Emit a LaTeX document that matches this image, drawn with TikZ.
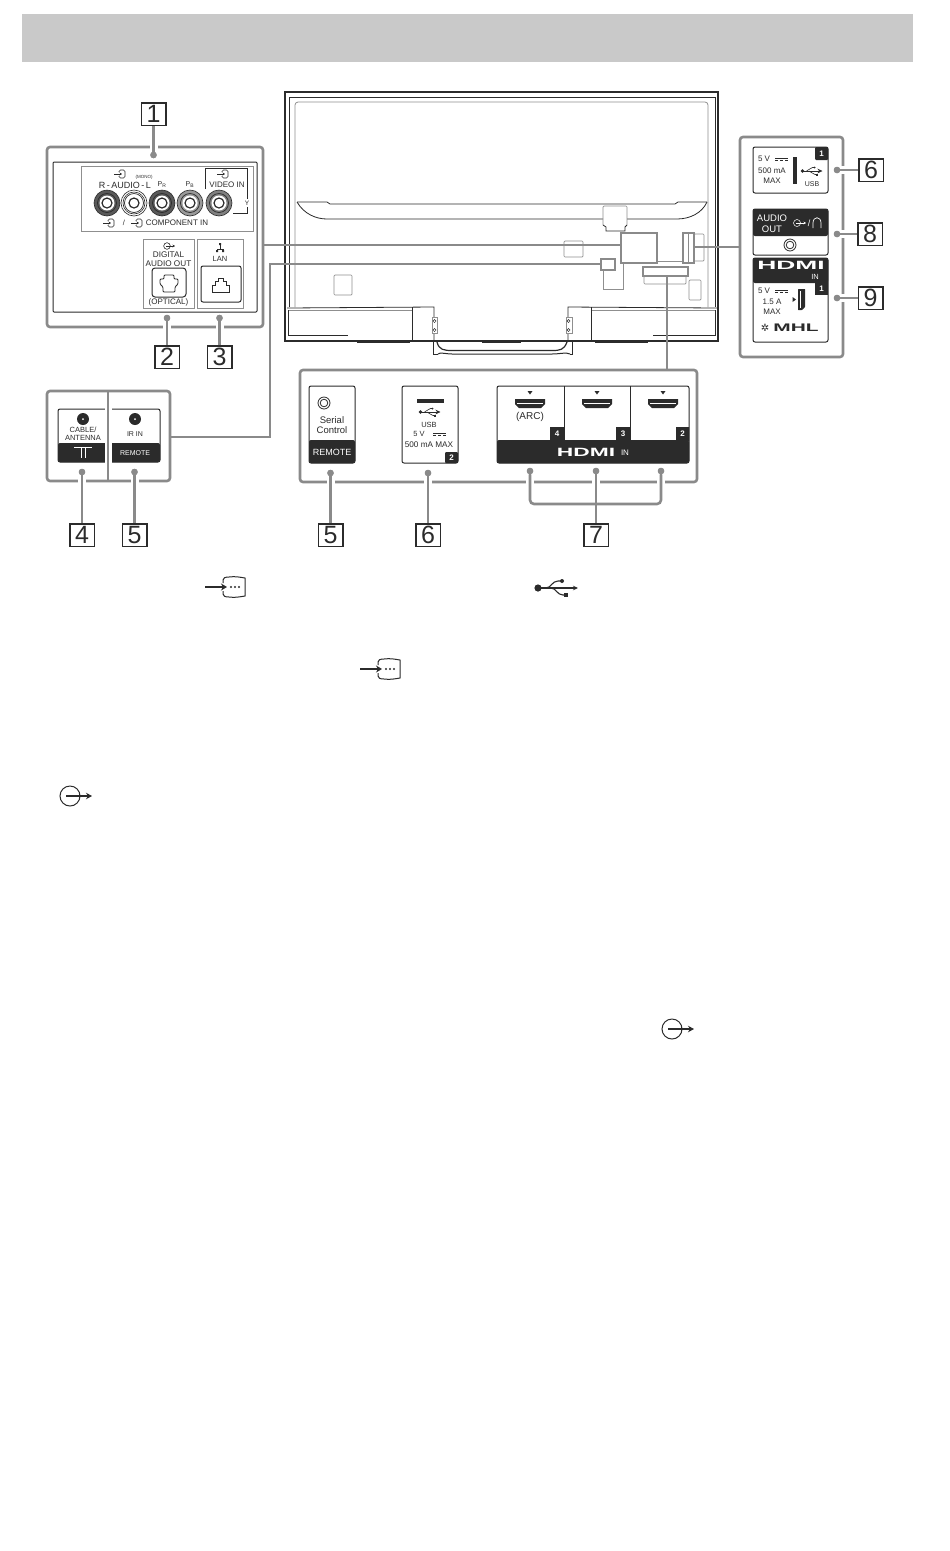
\documentclass[tikz,border=0pt]{standalone}
\usepackage{graphicx}
\usepackage{fontspec}
\setmainfont{Liberation Sans}
\usetikzlibrary{arrows.meta}
\definecolor{ink}{HTML}{2B2B2B}
\definecolor{grayln}{HTML}{8A8A8A}
\definecolor{barc}{HTML}{C9C9C9}
\definecolor{thinc}{HTML}{8F8F8F}
\tikzset{
  x=1pt,y=-1pt,
  tx/.style={inner sep=0pt,text=ink,align=center,font=\fontsize{#1}{#1}\selectfont},
  tx/.default=7.5,
  wt/.style={inner sep=0pt,text=white,align=center,font=\fontsize{#1}{#1}\selectfont},
  numbox/.style={draw=ink,line width=.8pt,fill=white,inner sep=0pt,minimum width=24pt,minimum height=22pt,font=\fontsize{25}{25}\selectfont,text=ink},
  dotn/.style={circle,fill=grayln,inner sep=0pt,minimum size=6.5pt},
  frame/.style={draw=grayln,line width=2.6pt,rounded corners=3pt,inner sep=0pt},
  card/.style={draw=ink,line width=1pt,rounded corners=2pt,fill=white,inner sep=0pt},
  panel/.style={draw=thinc,line width=.6pt,inner sep=0pt},
  conn/.style={draw=grayln,line width=2.6pt},
  haloc/.style={conn,preaction={draw=white,line width=8pt}},
  tvln/.style={draw=ink,line width=.8pt},
  tvgr/.style={draw=thinc,line width=.7pt,rounded corners=1pt},
  hilite/.style={draw=grayln,line width=2.8pt},
  usbicon/.pic={
    \fill[ink] (5,0) circle (3.6);
    \draw[ink,-{Stealth[length=5pt,width=4.5pt]}] (5,0) -- (45,0);
    \draw[ink] (13,0) .. controls (18,0) and (19,-7) .. (25,-7) -- (29,-7);
    \fill[ink] (29,-7) circle (2);
    \draw[ink] (18,0) .. controls (23,0) and (24,7) .. (30,7) -- (33,7);
    \fill[ink] (31,5) rectangle (35,9);
  },
  inicon/.pic={
    \draw[ink,line width=1.5pt,-{Stealth[length=6pt,width=7pt]}] (0,0) -- (22,0);
    \draw[ink,line width=1pt] (18,-4) -- (18,-7) .. controls (18,-9) and (20,-10) .. (24,-10) .. controls (30,-10.8) and (34,-10) .. (40,-9) -- (40,9) .. controls (34,10) and (30,10.8) .. (24,10) .. controls (20,10) and (18,9) .. (18,7) -- (18,4);
    \foreach \q in {26,30,34}{\fill[ink] (\q,0) circle (1.1);}
  },
  outicon/.pic={
    \draw[ink,line width=1pt] (0,0) circle (10);
    \draw[ink,line width=1.1pt,-{Stealth[length=6pt,width=6.5pt]}] (-4,0) -- (22,0);
  },
  sminicon/.pic={
    \draw[ink,line width=.6pt,-{Stealth[length=2.5pt,width=3pt]}] (-7,0) -- (1,0);
    \draw[ink,line width=.6pt,rounded corners=1.5pt] (-2,-2) -- (-2,-4) -- (4,-4) -- (4,4) -- (-2,4) -- (-2,2);
  },
  smouticon/.pic={
    \draw[ink,line width=.6pt] (0,0) circle (3.3);
    \draw[ink,line width=.6pt,-{Stealth[length=2.5pt,width=2.8pt]}] (-1,0) -- (8,0);
  },
  dcsym/.pic={
    \draw[ink,line width=.6pt] (0,-1) -- (13,-1);
    \draw[ink,line width=.6pt,dash pattern=on 3pt off 2pt] (0,1) -- (13,1);
  },
  rca/.pic={
    \fill[#1] (0,0) circle (13);
    \draw[ink,line width=.6pt] (0,0) circle (13);
    \draw[ink,line width=.7pt] (0,0) circle (9.5);
    \fill[white] (0,0) circle (7.5);
    \draw[ink,line width=1.2pt] (0,0) circle (5);
  },
  hport/.pic={
    \fill[ink] (-2.5,-10) -- (2.5,-10) -- (0,-6.5) -- cycle;
    \fill[ink] (-15,-2) -- (15,-2) -- (15,3) -- (11,7) -- (-11,7) -- (-15,3) -- cycle;
    \fill[white] (-13,1.5) rectangle (13,3);
  },
  jack/.pic={
    \draw[ink,line width=.8pt] (0,0) circle (6);
    \draw[ink,line width=.8pt] (0,0) circle (3.8);
  },
  fjack/.pic={
    \fill[ink] (0,0) circle (6);
    \fill[white] (0,0) circle (1);
  }
}
\begin{document}
\begin{tikzpicture}
\useasboundingbox (0,0) rectangle (950,1551);
\fill[white] (0,0) rectangle (950,1551);
\fill[barc] (22,14) rectangle (913,62);

% ---------- TV rear view
\draw[draw=ink,line width=1.3pt] (285,92) rectangle (718,341);
\draw[tvln] (289,97) -- (715,97);
\draw[tvln] (289,97) -- (289,307);
\draw[tvln] (715,97) -- (715,307);
\draw[draw=thinc,line width=.8pt,rounded corners=3pt] (295,307) -- (295,102) -- (708,102) -- (708,307);
\draw[tvln] (297,202) -- (327,202) -- (330,204) -- (675,204) -- (678,202) -- (707,202);
\draw[tvln] (297,202) .. controls (304,214) and (316,219) .. (327,219) -- (603,219);
\draw[tvln] (627,219) -- (677,219) .. controls (690,219) and (702,213) .. (707,202);
\draw[tvgr] (603,225) -- (603,206) -- (627,206) -- (627,225);
\draw[tvln] (603,225) -- (606,227) -- (606,231) -- (625,231) -- (625,227) -- (627,225);
\draw[tvgr] (564,241) rectangle (583,257);
\draw[tvgr] (334,275) rectangle (352,295);
\draw[tvgr] (694,234) rectangle (704,261);
\draw[tvgr] (644,276) rectangle (686,284);
\draw[draw=thinc,line width=.7pt] (657,261) -- (683,261);
\draw[draw=thinc,line width=.7pt] (615,270) -- (603,270) -- (603,289) -- (623,289) -- (623,263);
\draw[tvgr] (689,280) rectangle (701,300);
% base
\draw[tvln] (287,308) -- (434,307) -- (434,341);
\draw[tvln] (717,308) -- (568,307) -- (568,341);
\draw[draw=thinc,line width=.6pt] (288,310) -- (412,310);
\draw[draw=thinc,line width=.6pt] (591,310) -- (715,310);
\draw[tvln] (412,307) -- (412,341);
\draw[tvln] (591,307) -- (591,341);
\draw[tvln] (288,310) -- (288,335) -- (348,335);
\draw[tvln] (715,310) -- (715,335) -- (653,335);
\draw[draw=ink,line width=1.5pt] (357,342) -- (410,342);
\draw[draw=ink,line width=1.5pt] (595,342) -- (648,342);
\draw[draw=ink,line width=.9pt] (482,342.5) -- (521,342.5);
\draw[draw=ink,line width=1pt] (433,341) -- (433,354) -- (438,354) (570,354) -- (572,354) -- (572,341);
\draw[draw=ink,line width=1.2pt] (437,342) .. controls (439,350) and (444,350.5) .. (452,350.5) -- (552,350.5) .. controls (560,350.5) and (564,350) .. (567,342);
\draw[draw=ink,line width=1pt] (438,354) .. controls (440,352) and (446,354) .. (452,354) -- (552,354) .. controls (560,354) and (566,352) .. (570,354);
\draw[draw=thinc,line width=.7pt,fill=white] (432,317) rectangle (437,333);
\draw[draw=thinc,line width=.7pt,fill=white] (566,317) rectangle (572,333);
\foreach \q/\r in {434.5/321,434.5/330,568.5/321,568.5/330}{\draw[draw=ink,line width=.5pt] (\q,\r) circle (1.6);}

% ---------- highlight boxes on the TV
\node[hilite,inner sep=0pt,minimum width=36pt,minimum height=30pt] (hA) at (639,248) {};
\node[hilite,inner sep=0pt,minimum width=14pt,minimum height=11pt] (hB) at (608,264.5) {};
\node[hilite,inner sep=0pt,minimum width=11pt,minimum height=30pt] (hC) at (688.5,248) {};
\node[hilite,inner sep=0pt,minimum width=45pt,minimum height=9pt] (hD) at (665.5,271.5) {};
\draw[draw=grayln,line width=1pt] (688.5,233) -- (688.5,263);

% ---------- frames
\node[frame,minimum width=216pt,minimum height=180pt] (frA) at (155,237) {};
\node[frame,minimum width=123pt,minimum height=90pt] (frB) at (108.5,436) {};
\node[frame,minimum width=397pt,minimum height=112pt] (frC) at (498.5,426) {};
\node[frame,minimum width=103pt,minimum height=220pt] (frD) at (791.5,247) {};

% ---------- connectors
\coordinate (aE) at (263,245);
\coordinate (bA) at (270,264);
\coordinate (bB) at (270,437);
\coordinate (bC) at (170,437);
\coordinate (dT) at (667,370);
\coordinate (eL) at (740,247);
\draw[conn] (aE) -- (hA.west |- aE);
\draw[conn] (hB.west |- bA) -- (bA) -- (bB) -- (bC);
\draw[conn] (hD.south -| dT) -- (dT);
\draw[conn] (eL) -- (hC.east |- eL);

% ---------- panel 1
\node[card,rounded corners=1pt,minimum width=204pt,minimum height=150pt] (inA) at (155,237) {};
\node[panel,minimum width=172pt,minimum height=65pt] (pComp) at (167,198.5) {};
\node[panel,minimum width=51pt,minimum height=69pt] (pDig) at (168.5,273.5) {};
\node[panel,minimum width=46pt,minimum height=69pt] (pLan) at (220,273.5) {};

\pic at (121,174) {sminicon};
\node[tx=4.5] (tMono) at (144,177) {(MONO)};
\node[tx=9] (tAud) at (125,185) {R\,-\,AUDIO\,-\,L};
\node[tx=7] (tPr) at (162,185) {P\textsubscript{R}};
\node[tx=7] (tPb) at (190,185) {P\textsubscript{B}};
\pic at (224,174) {sminicon};
\node[tx=8] (tVid) at (227,185) {VIDEO IN};
\draw[draw=ink,line width=.6pt] (205,189) -- (205,168.5) -- (247,168.5) -- (247,199);
\draw[draw=ink,line width=.6pt] (247,207) -- (247,213) -- (233,213);
\node[tx=6.5,fill=white] (tY) at (247,203) {Y};
\pic at (107,203) {rca=black!65};
\pic at (134,203) {rca=white};
\draw[ink,line width=.6pt] (134,203) circle (11);
\pic at (162,203) {rca=black!65};
\pic at (190,203) {rca=black!40};
\pic at (219,203) {rca=black!50};
\pic at (110,223) {sminicon};
\node[tx=7.5] (tSl) at (124,223) {/};
\pic at (138,223) {sminicon};
\node[tx=8] (tCom) at (177,223) {COMPONENT IN};

\pic at (167,246) {smouticon};
\node[tx=8.2] (tDg) at (168.5,259) {DIGITAL\\[.6pt]AUDIO OUT};
\node[card,rounded corners=3pt,minimum width=34pt,minimum height=29pt] (opt) at (169,282.5) {};
\draw[draw=ink,line width=.8pt,rounded corners=1pt] (164,275) -- (174,275) -- (174,279) -- (178,279) -- (178,284) -- (175,287) -- (175,292) -- (163,292) -- (163,287) -- (160,284) -- (160,279) -- (164,279) -- cycle;
\node[tx=8] (tOpt) at (168.5,302) {(OPTICAL)};

\draw[draw=ink,line width=.5pt] (220,244) -- (220,249) (217,249) -- (223,249) (217,249)--(217,250.5) (223,249)--(223,250.5);
\fill[ink] (219,243) rectangle (221,245) (216,250) rectangle (218,252) (222,250) rectangle (224,252);
\node[tx=7.5] (tLan) at (220,259) {LAN};
\node[card,rounded corners=2pt,minimum width=40pt,minimum height=36pt] (rj) at (221,284) {};
\draw[draw=ink,line width=.7pt] (212,292) -- (212,285) -- (215,285) -- (215,281) -- (218,281) -- (218,278) -- (223,278) -- (223,281) -- (226,281) -- (226,285) -- (229,285) -- (229,292) -- cycle;

% ---------- panels 4/5
\node[card,minimum width=102pt,minimum height=53pt] (cdE) at (109,435.5) {};
\fill[ink,rounded corners=2pt] (58,443) rectangle (160,462);
\pic at (83,419) {fjack};
\pic at (135,419) {fjack};
\node[tx=7.5] (tCab) at (83,433.5) {CABLE/\\[.4pt]ANTENNA};
\draw[draw=white,line width=.7pt] (74,447) -- (92,447) (81,447) -- (81,458) (85,447) -- (85,458);
\node[tx=7] (tIr) at (135,434) {IR IN};
\node[wt=7] (tRm) at (135,453) {REMOTE};
\draw[draw=white,line width=7pt] (108,403) -- (108,470);
\draw[conn] (108,391) -- (108,481);

% ---------- panel serial
\node[card,minimum width=46pt,minimum height=77pt] (cdF) at (332,424.5) {};
\fill[ink,rounded corners=2pt] (309,440) rectangle (355,463);
\pic at (324,403) {jack};
\node[tx=9.5] (tSer) at (332,425) {Serial\\[.6pt]Control};
\node[wt=9] (tRm2) at (332,452) {REMOTE};

% ---------- panel USB
\node[card,minimum width=56pt,minimum height=77pt] (cdG) at (430,424.5) {};
\fill[ink] (417,399) rectangle (444,403);
\pic[scale=.5,line width=.6pt] at (418,412) {usbicon};
\node[tx=7.5] (tUs) at (429,425) {USB};
\node[tx=7.5] (t5a) at (419,434) {5 V};
\pic at (433,434) {dcsym};
\node[tx=8.2] (t5b) at (429,445) {500 mA MAX};
\fill[ink,rounded corners=1pt] (445,452) rectangle (458,463);
\node[wt=8] (t2a) at (451.5,457.5) {\bfseries 2};

% ---------- panel HDMI
\node[card,minimum width=192pt,minimum height=77pt] (cdH) at (593,424.5) {};
\fill[ink,rounded corners=2pt] (497,440) rectangle (689,463);
\draw[draw=ink,line width=1pt] (564,386) -- (564,440) (630,386) -- (630,440);
\fill[ink] (550,427) rectangle (564,441) (616,427) rectangle (630,441) (676,427) rectangle (689,441);
\node[wt=8] (t4) at (557,434) {\bfseries 4};
\node[wt=8] (t3) at (623,434) {\bfseries 3};
\node[wt=8] (t2b) at (682.5,434) {\bfseries 2};
\pic at (530,401) {hport};
\pic at (597,401) {hport};
\pic at (663,401) {hport};
\node[tx=10] (tArc) at (530,417) {(ARC)};
\node[wt=12] (tHd) at (586,452) {\scalebox{1.9}[1]{\bfseries HDMI}};
\node[wt=8] (tIn) at (625,453) {IN};

% ---------- right panels
\node[card,minimum width=75pt,minimum height=46pt] (cdI) at (790.5,170) {};
\fill[ink,rounded corners=1pt] (815,147) rectangle (828,160);
\node[wt=8] (t1a) at (821.5,153.5) {\bfseries 1};
\node[tx=8] (t5c) at (764,159) {5 V};
\pic at (775,159) {dcsym};
\node[tx=8] (t5d) at (772,171) {500 mA};
\node[tx=8] (t5e) at (772,181) {MAX};
\fill[ink] (793,157) rectangle (797,184);
\pic[scale=.5,line width=.6pt] at (800,171) {usbicon};
\node[tx=7] (tUb) at (812,184) {USB};

\node[card,minimum width=75pt,minimum height=46pt] (cdJ) at (790.5,232) {};
\fill[ink,rounded corners=2pt] (753,209) rectangle (828,236);
\node[wt=9.5] (tAo) at (772,223.5) {AUDIO\\[1.5pt]OUT};
\draw[draw=white,line width=.5pt] (797,223) circle (3.5);
\draw[draw=white,line width=.5pt,-{Stealth[length=2.5pt,width=2.8pt]}] (796,223) -- (806,223);
\node[wt=9] (tSl2) at (809,223) {/};
\draw[draw=white,line width=.7pt] (813,228) -- (813,223) .. controls (813,216) and (821,216) .. (821,223) -- (821,228);
\pic at (790,245) {jack};

\node[card,minimum width=75pt,minimum height=84pt] (cdK) at (790.5,300) {};
\fill[ink,rounded corners=2pt] (753,258) rectangle (828,283);
\fill[ink] (815,280) rectangle (828,295);
\node[wt=12] (tHe) at (791,265) {\scalebox{2.2}[1]{\bfseries HDMI}};
\node[wt=7.5] (tIe) at (815,277) {IN};
\node[wt=8] (t1b) at (821.5,289) {\bfseries 1};
\node[tx=8] (t5f) at (764,291) {5 V};
\pic at (775,291) {dcsym};
\node[tx=8] (t5g) at (772,302) {1.5 A};
\node[tx=8] (t5h) at (772,312) {MAX};
\fill[ink] (792.5,297) -- (796,299.5) -- (792.5,302) -- cycle;
\fill[ink,rounded corners=.5pt] (798,289) -- (805,289) -- (805,307) -- (802,310) -- (798,310) -- cycle;
\fill[white] (799.5,291) rectangle (801,308);
\node[tx=10] (tSt) at (765,328) {\fontspec{DejaVu Sans}✲};
\node[tx=11] (tMh) at (796,328) {\scalebox{1.9}[1]{\bfseries MHL}};

% ---------- leader dots and number boxes
\node[dotn] (d1) at (153.5,155) {};
\node[numbox] (n1) at (153.5,114) {1};
\node[dotn] (d2) at (167,318) {};
\node[numbox] (n2) at (167,357) {2};
\node[dotn] (d3) at (219.5,318) {};
\node[numbox] (n3) at (219.5,357) {3};
\node[dotn] (d4) at (82,472) {};
\node[numbox] (n4) at (82,535) {4};
\node[dotn] (d5) at (134.5,472) {};
\node[numbox] (n5) at (134.5,535) {5};
\node[dotn] (d5b) at (330.5,473) {};
\node[numbox] (n5b) at (330.5,535) {5};
\node[dotn] (d6b) at (428,473) {};
\node[numbox] (n6b) at (428,535) {6};
\node[dotn] (d7a) at (530,471) {};
\node[dotn] (d7b) at (596,471) {};
\node[dotn] (d7c) at (661,471) {};
\node[numbox] (n7) at (596,535) {7};
\node[dotn] (d6) at (837,170) {};
\node[numbox] (n6) at (871,170) {6};
\node[dotn] (d8) at (837,234) {};
\node[numbox] (n8) at (870,234) {8};
\node[dotn] (d9) at (837,298) {};
\node[numbox] (n9) at (870.5,298) {9};

\draw[haloc] (d2) -- (n2);
\draw[haloc] (d3) -- (n3);
\draw[haloc] (d4) -- (n4);
\draw[haloc] (d5) -- (n5);
\draw[haloc] (d5b) -- (n5b);
\draw[haloc] (d6b) -- (n6b);
\draw[haloc] (d7a) -- (d7a |- 0,499);
\draw[haloc] (d7b) -- (n7);
\draw[haloc] (d7c) -- (d7c |- 0,499);
\draw[conn,rounded corners=4pt] (d7a) -- (d7a |- 0,504) -- (d7c |- 0,504) -- (d7c);
\draw[haloc] (n1) -- (d1);
\draw[haloc] (d6) -- (n6);
\draw[haloc] (d8) -- (n8);
\draw[haloc] (d9) -- (n9);
\foreach \q in {d2,d3,d4,d5,d5b,d6b,d7a,d7b,d7c,d1,d6,d8,d9}{\fill[grayln] (\q) circle (3.2);}
\foreach \q in {n1,n2,n3,n4,n5,n5b,n6b,n7,n6,n8,n9}{\draw[draw=ink,line width=.8pt] (\q.north west) rectangle (\q.south east);}

% ---------- text symbols below
\pic[line width=1.1pt] at (533,588) {usbicon};
\pic at (205,587) {inicon};
\pic at (360,669) {inicon};
\pic at (70,796) {outicon};
\pic at (672,1029) {outicon};
\end{tikzpicture}
\end{document}
